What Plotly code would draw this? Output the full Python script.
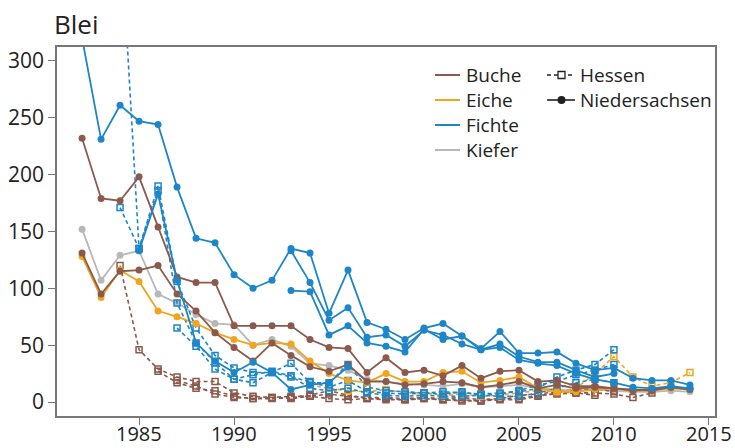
import plotly.graph_objects as go

# Blei (lead) deposition per plot: (first year, yearly values)
fichte_nds_a = (1982, [320, 231, 261, 247, 244, 189, 144, 140, 112, 100, 107, 135, 131, 78, 116,
                       70, 64, 55, 65, 69, 58, 47, 62, 43, 43, 44, 34, 28, 30, 21, 19, 19, 15])
fichte_nds_b = (1993, [133, 105, 72, 83, 57, 59, 49, 63, 59, 51, 46, 51, 40, 35, 35, 28, 22, 25])
fichte_nds_c = (1993, [98, 97, 59, 67, 52, 49, 44, 64, 55, 58, 46, 48, 37, 34, 32, 25, 20, 17,
                       13, 12, 14, 12])
fichte_nds_d = (1985, [133, 183, 107, 52, 36, 26, 35, 26, 11, 15, 17, 31])

fichte_he_a = (1984, [425, 135, 190, 106, 65, 41, 30, 26, 26, 34, 17, 17, 33, 13, 10, 9, 8, 9, 8,
                      7, 8, 9, 12, 22, 28, 33, 46])
fichte_he_b = (1984, [171, 135, 186, 87, 52, 35, 20, 17, 26, 22, 18, 13, 19, 9, 8, 7, 8, 7, 9, 6,
                      7, 10, 15, 18, 24, 28, 33])
fichte_he_c = (1987, [65, 49, 29, 20, 24, 27, 23, 12, 10, 12, 8, 6, 5, 6, 5, 5, 6, 5, 5, 8, 12, 17,
                      20, 17])

buche_nds_a = (1982, [232, 179, 177, 198, 154, 110, 105, 105, 67, 67, 67, 67, 55, 48, 47, 26, 39,
                      26, 28, 23, 32, 21, 27, 28, 18, 19, 14, 14, 12, 11, 10, 13, 12])
buche_nds_b = (1982, [131, 95, 115, 116, 120, 95, 80, 61, 48, 36, 52, 41, 31, 27, 33, 18, 18, 15,
                      16, 18, 17, 13, 15, 18, 12, 15, 12, 13, 12, 10, 11, 13, 11])

buche_he_a = (1984, [120, 46, 29, 22, 18, 18, 8, 5, 4, 5, 5, 7, 5, 4, 4, 3, 4, 3, 4, 2, 3, 3, 6, 7,
                     8, 8, 7, 4, 8])
buche_he_b = (1986, [27, 17, 12, 10, 5, 3, 3, 4, 6, 10, 6, 3, 3, 2, 3, 2, 2, 1, 2, 2, 5, 8, 10, 12, 9])
buche_he_c = (1987, [19, 14, 7, 4, 3, 4, 3, 5, 3, 2, 3, 2, 2, 3, 2, 1, 1, 3, 6, 7, 9, 8, 6])

eiche_nds_a = (1982, [128, 92, 116, 106, 80, 75, 69, 61, 55, 50, 52, 51, 36, 25, 19, 17, 25, 18,
                      18, 26, 27, 17, 19, 22, 12, 9, 9, 11, 12, 10, 10, 12, 11])
eiche_he_a = (1994, [15, 12, 10, 9, 11, 8, 8, 6, 7, 5, 6, 8, 10, 9, 12, 25, 40, 22, 14, 17, 26])

kiefer_nds_a = (1982, [152, 107, 129, 133, 95, 87, 77, 69, 68, 50, 55, 49, 34, 32, 28, 20, 18, 16,
                       15, 14, 16, 13, 14, 15, 12, 11, 10, 11, 10, 9, 9, 10, 9])

species = ["Buche", "Eiche", "Fichte", "Kiefer"]
states = ["Hessen", "Niedersachsen"]
x_ticks = [1985, 1990, 1995, 2000, 2005, 2010, 2015]
y_ticks = [0, 50, 100, 150, 200, 250, 300]
colors = {"Buche": "#8c5a4c", "Eiche": "#f2a41e", "Fichte": "#1c86c8", "Kiefer": "#b8b8b8"}

plots = [
    (kiefer_nds_a, "Kiefer", "Niedersachsen"),
    (buche_he_c, "Buche", "Hessen"),
    (buche_he_b, "Buche", "Hessen"),
    (buche_he_a, "Buche", "Hessen"),
    (eiche_he_a, "Eiche", "Hessen"),
    (fichte_he_c, "Fichte", "Hessen"),
    (fichte_he_b, "Fichte", "Hessen"),
    (fichte_he_a, "Fichte", "Hessen"),
    (eiche_nds_a, "Eiche", "Niedersachsen"),
    (buche_nds_b, "Buche", "Niedersachsen"),
    (buche_nds_a, "Buche", "Niedersachsen"),
    (fichte_nds_d, "Fichte", "Niedersachsen"),
    (fichte_nds_c, "Fichte", "Niedersachsen"),
    (fichte_nds_b, "Fichte", "Niedersachsen"),
    (fichte_nds_a, "Fichte", "Niedersachsen"),
]

FONT = "Open Sans, Noto Sans, sans-serif"
TEXT = "#222222"
DASH = "4px,3px"

# plot area in pixels (left, right, top, bottom)
L, R, T, B = 57, 715, 47, 416
W, H = 735, 448


def px_x(p):
    return (p - L) / (R - L)


def px_y(p):
    return (B - p) / (B - T)


fig = go.Figure()

for (start, values), sp, st in plots:
    years = list(range(start, start + len(values)))
    col = colors[sp]
    if st == "Hessen":
        line = dict(color=col, width=1.6, dash=DASH)
        marker = dict(symbol="square-open", size=6, color=col, line=dict(width=1.5, color=col))
    else:
        line = dict(color=col, width=1.8)
        marker = dict(symbol="circle", size=7, color=col)
    fig.add_trace(go.Scatter(x=years, y=values, mode="lines+markers", line=line,
                             marker=marker, showlegend=False, cliponaxis=True,
                             hoverinfo="x+y", name=f"{sp} {st}"))

# key: species colours (left column) and state line styles (right column)
shapes, notes = [], []
row_y = [75, 100, 125, 150]
for sp, yy in zip(species, row_y):
    shapes.append(dict(type="line", xref="paper", yref="paper",
                       x0=px_x(435), x1=px_x(460), y0=px_y(yy), y1=px_y(yy),
                       line=dict(color=colors[sp], width=2)))
    notes.append(dict(text=sp, xref="paper", yref="paper", x=px_x(464), y=px_y(yy),
                      xanchor="left", yanchor="middle", showarrow=False,
                      font=dict(family=FONT, size=19, color=TEXT)))

for st, yy in zip(states, row_y):
    dash = DASH if st == "Hessen" else "solid"
    shapes.append(dict(type="line", xref="paper", yref="paper",
                       x0=px_x(547), x1=px_x(575), y0=px_y(yy), y1=px_y(yy),
                       line=dict(color=TEXT, width=1.6, dash=dash)))
    if st == "Hessen":
        shapes.append(dict(type="rect", xref="paper", yref="paper",
                           x0=px_x(558), x1=px_x(565), y0=px_y(yy + 3.5), y1=px_y(yy - 3.5),
                           fillcolor="white", line=dict(color=TEXT, width=1.3)))
    else:
        shapes.append(dict(type="circle", xref="paper", yref="paper",
                           x0=px_x(557.5), x1=px_x(565.5), y0=px_y(yy + 4), y1=px_y(yy - 4),
                           fillcolor=TEXT, line=dict(color=TEXT, width=0)))
    notes.append(dict(text=st, xref="paper", yref="paper", x=px_x(578), y=px_y(yy),
                      xanchor="left", yanchor="middle", showarrow=False,
                      font=dict(family=FONT, size=19, color=TEXT)))

notes.append(dict(text="Blei", xref="paper", yref="paper", x=px_x(52), y=px_y(24),
                  xanchor="left", yanchor="middle", showarrow=False,
                  font=dict(family=FONT, size=26, color=TEXT)))

# year labels under the x ticks, kept inside the bottom edge
for yr in x_ticks:
    notes.append(dict(text=str(yr), xref="x", yref="paper", x=yr, y=px_y(448),
                      xanchor="center", yanchor="bottom", showarrow=False, borderpad=0,
                      font=dict(family=FONT, size=20, color=TEXT)))

fig.update_layout(
    width=W, height=H,
    margin=dict(l=L, r=W - R, t=T, b=H - B, autoexpand=False),
    paper_bgcolor="white", plot_bgcolor="white",
    font=dict(family=FONT, color=TEXT),
    showlegend=False,
    shapes=shapes,
    annotations=notes,
    xaxis=dict(range=[1980.68, 2015.32], tickvals=x_ticks, showticklabels=False,
               ticks="outside", ticklen=7, tickwidth=1.3, tickcolor="#777",
               showline=True, linecolor="#777", linewidth=1.5, mirror=True,
               showgrid=False, zeroline=False, automargin=False),
    yaxis=dict(range=[-12.3, 312.2], tickvals=y_ticks,
               ticks="outside", ticklen=7, tickwidth=1.3, tickcolor="#777",
               showline=True, linecolor="#777", linewidth=1.5, mirror=True,
               showgrid=False, zeroline=False, automargin=False,
               tickfont=dict(family=FONT, size=21, color=TEXT)),
)

fig.write_html("out.html")
